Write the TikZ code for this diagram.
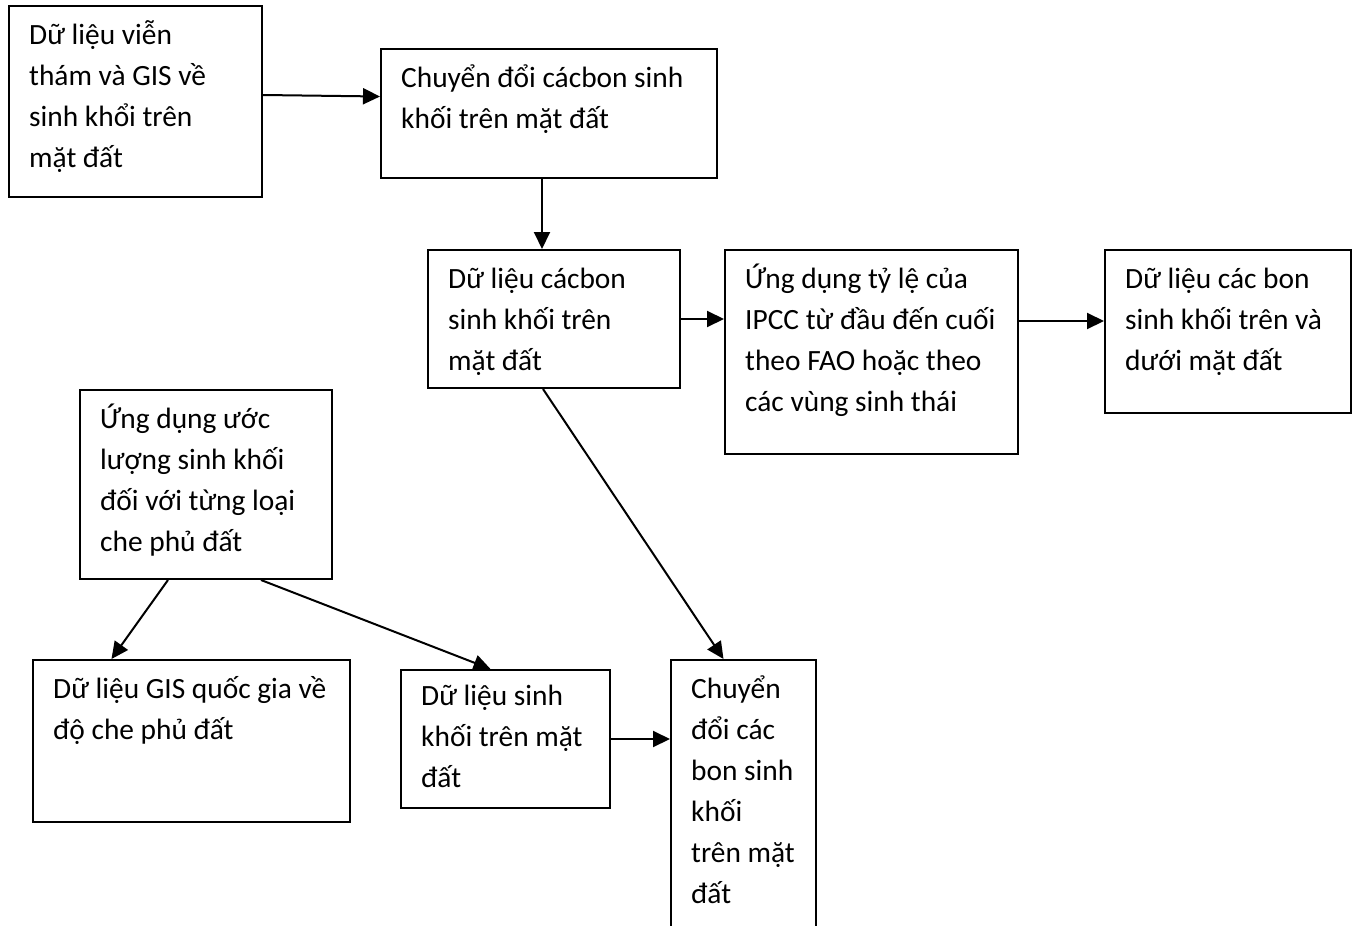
\documentclass[tikz,border=0pt]{standalone}
\usepackage{fontspec}
\setmainfont{Carlito}
\usetikzlibrary{arrows.meta}
\begin{document}
\begin{tikzpicture}[x=1pt,y=-1pt,
  box/.style={draw, line width=2pt, anchor=north west, inner sep=0pt},
  txt/.style={anchor=north west, inner sep=0pt, align=left, font=\fontsize{29.4}{41}\selectfont},
  arr/.style={line width=2pt, -{Triangle[length=17pt,width=16pt]}}]
\useasboundingbox (0,0) rectangle (1357,926);
\clip (0,0) rectangle (1357,926);
% boxes
\node[box, minimum width=253pt, minimum height=191pt] (A) at (8,5) {};
\node[box, minimum width=336pt, minimum height=129pt] (B) at (380,48) {};
\node[box, minimum width=252pt, minimum height=138pt] (C) at (427,249) {};
\node[box, minimum width=293pt, minimum height=204pt] (D) at (724,249) {};
\node[box, minimum width=246pt, minimum height=163pt] (E) at (1104,249) {};
\node[box, minimum width=252pt, minimum height=189pt] (F) at (79,389) {};
\node[box, minimum width=317pt, minimum height=162pt] (G) at (32,659) {};
\node[box, minimum width=209pt, minimum height=138pt] (H) at (400,669) {};
\node[box, minimum width=145pt, minimum height=300pt] (I) at (670,659) {};
% texts
\node[txt] (tA) at ([shift={(21pt,-10.3pt)}]A.north west) {\strut Dữ liệu viễn\\\strut thám và GIS về\\\strut sinh khổi trên\\\strut mặt đất};
\node[txt] (tB) at ([shift={(21pt,-10.3pt)}]B.north west) {\strut Chuyển đổi cácbon sinh\\\strut khối trên mặt đất};
\node[txt] (tC) at ([shift={(21pt,-10.3pt)}]C.north west) {\strut Dữ liệu cácbon\\\strut sinh khối trên\\\strut mặt đất};
\node[txt] (tD) at ([shift={(21pt,-10.3pt)}]D.north west) {\strut Ứng dụng tỷ lệ của\\\strut IPCC từ đầu đến cuối\\\strut theo FAO hoặc theo\\\strut các vùng sinh thái};
\node[txt] (tE) at ([shift={(21pt,-10.3pt)}]E.north west) {\strut Dữ liệu các bon\\\strut sinh khối trên và\\\strut dưới mặt đất};
\node[txt] (tF) at ([shift={(21pt,-10.3pt)}]F.north west) {\strut Ứng dụng ước\\\strut lượng sinh khối\\\strut đối với từng loại\\\strut che phủ đất};
\node[txt] (tG) at ([shift={(21pt,-10.3pt)}]G.north west) {\strut Dữ liệu GIS quốc gia về\\\strut độ che phủ đất};
\node[txt] (tH) at ([shift={(21pt,-8pt)}]H.north west) {\strut Dữ liệu sinh\\\strut khối trên mặt\\\strut đất};
\node[txt] (tI) at ([shift={(21pt,-10.3pt)}]I.north west) {\strut Chuyển\\\strut đổi các\\\strut bon sinh\\\strut khối\\\strut trên mặt\\\strut đất};
% connectors
\draw[arr] ([yshift=6.5pt]A.east) -- ([yshift=17pt]B.west);
\draw[arr] ([xshift=-7pt]B.south) -- ([xshift=-7pt]B.south |- C.north);
\draw[arr] (C.east) -- (C.east -| D.west);
\draw[arr] ([yshift=31pt]D.east) -- ([yshift=31pt]D.east -| E.west);
\draw[arr] ([xshift=-11pt]C.south) -- ([xshift=-20pt]I.north);
\draw[arr] ([xshift=-38pt]F.south) -- ([xshift=-80pt]G.north);
\draw[arr] ([xshift=55pt]F.south) -- ([xshift=-15pt]H.north);
\draw[arr] (H.east) -- (H.east -| I.west);
\end{tikzpicture}
\end{document}
